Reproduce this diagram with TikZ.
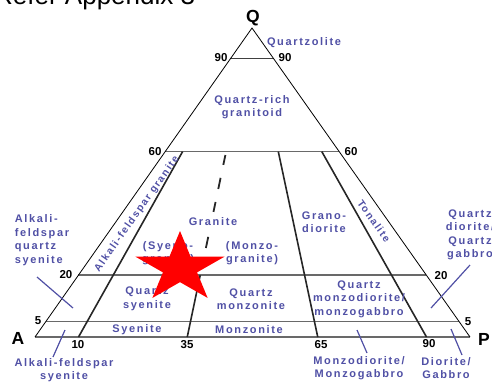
\documentclass[tikz,border=0pt]{standalone}
\usepackage{fontspec}
\setmainfont{Liberation Sans}
\newfontfamily\labfont[LetterSpace=15]{Liberation Sans}
\usetikzlibrary{calc}
\definecolor{labcol}{RGB}{80,80,165}
\definecolor{hgray}{RGB}{105,105,105}
\begin{document}
\begin{tikzpicture}[x=1pt,y=-1pt,
  edge/.style={black,line width=0.8pt},
  hline/.style={hgray,line width=1.5pt},
  topline/.style={black!75,line width=1pt},
  divline/.style={black!85,line width=1.6pt},
  lab/.style={text=labcol,font=\labfont\bfseries\fontsize{11}{13.5}\selectfont,align=center,inner sep=0pt},
  slab/.style={lab,font=\labfont\bfseries\fontsize{10.2}{12}\selectfont},
  tick/.style={font=\bfseries\fontsize{11.5}{13}\selectfont,inner sep=0pt},
  corner/.style={font=\bfseries\fontsize{17.5}{20}\selectfont,inner sep=0pt},
  ptr/.style={labcol,line width=1.2pt}]
\useasboundingbox (0,0) rectangle (492,381);
% header text (cut by the top edge)
\node[anchor=base west,inner sep=0pt,font=\fontsize{26}{30}\selectfont] (hdr) at (-6,4) {Refer Appendix 3};
% corners
\coordinate (A) at (35,337);
\coordinate (P) at (470,337);
\coordinate (Q) at (252,28);
\foreach \q/\n in {0.9/90,0.6/60,0.2/20,0.05/5}{
  \coordinate (L\n) at ($(A)!\q!(Q)$);
  \coordinate (R\n) at ($(P)!\q!(Q)$);
}
\foreach \f/\n in {0.1/10,0.35/35,0.65/65,0.9/90}{
  \coordinate (B\n) at ($(A)!\f!(P)$);
  \coordinate (T\n) at ($(B\n)!0.6!(Q)$);
}
\coordinate (S35) at ($(B35)!0.2!(Q)$);
% horizontal lines
\draw[topline] (L90) -- (R90);
\draw[hline] (L60) -- (R60);
\draw[hline] (L20) -- (R20);
\draw[hline] (L5) -- (R5);
\draw[hline] (A) -- (P);
% outer edges
\draw[edge] (A) -- (Q) -- (P);
% dividing lines
\draw[divline] (B10) -- (T10);
\draw[divline] (B35) -- (S35);
\draw[divline] (B65) -- (T65);
\draw[divline] (B90) -- (T90);
\foreach \a/\b in {0.589/0.557,0.515/0.479,0.437/0.405,0.324/0.288}{
  \draw[divline,line width=1.8pt] ($(B35)!\a!(Q)$) -- ($(B35)!\b!(Q)$);
}
% corner labels
\node[corner] (nQ) at (253,18) {Q};
\node[corner] (nA) at (18,338) {A};
\node[corner] (nP) at (484,339) {P};
% tick labels
\node[tick] (t90l) at (221,58) {90};
\node[tick] (t90r) at (285,58) {90};
\node[tick] (t60l) at (155,152) {60};
\node[tick] (t60r) at (351,152) {60};
\node[tick] (t20l) at (66,275) {20};
\node[tick] (t20r) at (441,276) {20};
\node[tick] (t5l) at (38,321) {5};
\node[tick] (t5r) at (468,322) {5};
\node[tick] (t10) at (78,345) {10};
\node[tick] (t35) at (187,345) {35};
\node[tick] (t65) at (321,345) {65};
\node[tick] (t90b) at (429,344) {90};
% field labels
\node[lab] (qz) at (304,43) {Quartzolite};
\node[lab] (qrg) at (252,107) {Quartz-rich\\granitoid};
\node[slab,rotate=54.9] (afg) at (137,214) {Alkali-feldspar granite};
\node[slab,rotate=-54.8] (ton) at (374,221) {Tonalite};
\node[lab] (gr) at (213,222) {Granite};
\node[lab] (syg) at (168,253) {(Syeno-\\granite)};
\node[lab] (mzg) at (252,253) {(Monzo-\\granite)};
\node[lab] (gd) at (324,222) {Grano-\\diorite};
\node[lab,align=left] (afqs) at (42,240) {Alkali-\\feldspar\\quartz\\syenite};
\node[lab] (qdg) at (470,235) {Quartz\\diorite/\\Quartz\\gabbro};
\node[lab] (qs) at (147,299) {Quartz\\syenite};
\node[lab] (qm) at (251,299) {Quartz\\monzonite};
\node[lab] (qmd) at (359,299) {Quartz\\monzodiorite/\\monzogabbro};
\node[lab] (sy) at (137,330) {Syenite};
\node[lab] (mz) at (249,330) {Monzonite};
\node[lab] (md) at (359,368) {Monzodiorite/\\Monzogabbro};
\node[lab] (dg) at (446,368) {Diorite/\\Gabbro};
\node[lab] (afs) at (64,370) {Alkali-feldspar\\syenite};
% pointers
\coordinate (p1a) at (37,277); \coordinate (p1b) at (73,308);
\coordinate (p2a) at (470,265); \coordinate (p2b) at (431,308);
\coordinate (p3a) at (65,330); \coordinate (p3b) at (53,357);
\coordinate (p4a) at (357,330); \coordinate (p4b) at (367,353);
\coordinate (p5a) at (451,329); \coordinate (p5b) at (462,355);
\draw[ptr] (p1a) -- (p1b);
\draw[ptr] (p2a) -- (p2b);
\draw[ptr] (p3a) -- (p3b);
\draw[ptr] (p4a) -- (p4b);
\draw[ptr] (p5a) -- (p5b);
% red star
\fill[red] (180,231) -- (190.55,256.57) -- (224.7,256.57) -- (197.07,272.37)
  -- (207.64,297.93) -- (180,282.13) -- (152.36,297.93) -- (162.93,272.37)
  -- (135.3,256.57) -- (169.45,256.57) -- cycle;
\end{tikzpicture}
\end{document}
